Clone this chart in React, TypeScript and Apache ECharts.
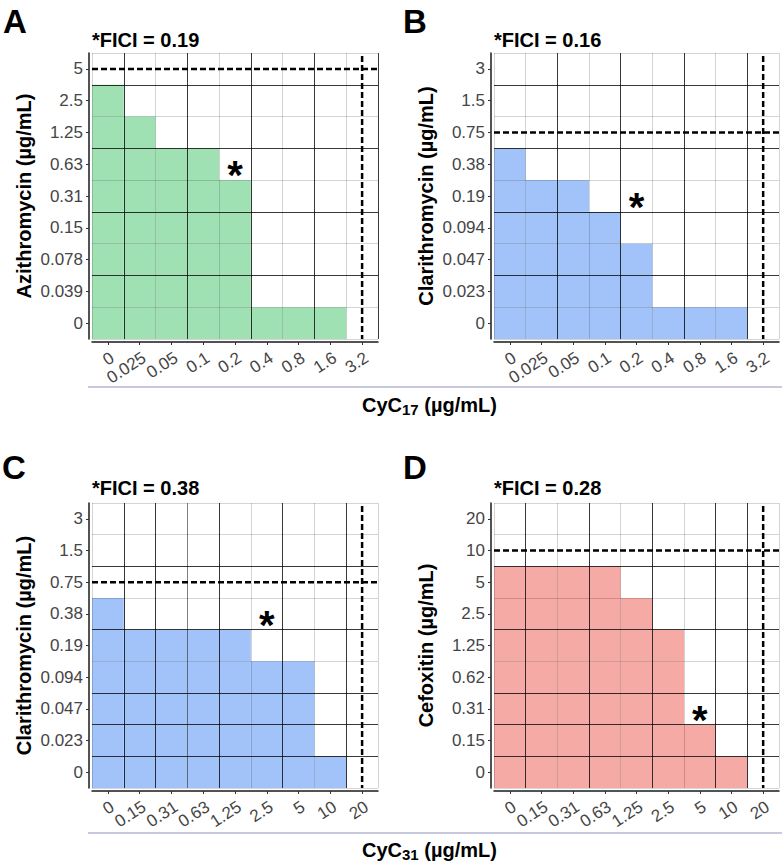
import React, { useEffect, useRef } from "react";
import * as echarts from "echarts";

// ---------- data ----------
const cyc17Doses = ["0", "0.025", "0.05", "0.1", "0.2", "0.4", "0.8", "1.6", "3.2"];
const cyc31Doses = ["0", "0.15", "0.31", "0.63", "1.25", "2.5", "5", "10", "20"];
const azithromycinDoses = ["0", "0.039", "0.078", "0.15", "0.31", "0.63", "1.25", "2.5", "5"];
const clarithromycinDoses = ["0", "0.023", "0.047", "0.094", "0.19", "0.38", "0.75", "1.5", "3"];
const cefoxitinDoses = ["0", "0.15", "0.31", "0.62", "1.25", "2.5", "5", "10", "20"];

// highest antibiotic concentration with growth, per CyC column (null = no growth)
const growthA = ["2.5", "1.25", "0.63", "0.63", "0.31", "0", "0", "0", null];
const growthB = ["0.38", "0.19", "0.19", "0.094", "0.047", "0", "0", "0", null];
const growthC = ["0.38", "0.19", "0.19", "0.19", "0.19", "0.094", "0.094", "0", null];
const growthD = ["5", "5", "5", "5", "2.5", "1.25", "0.15", "0", null];

// MIC of each drug alone [CyC, antibiotic]
const micA = ["3.2", "5"];
const micB = ["3.2", "0.75"];
const micC = ["20", "0.75"];
const micD = ["20", "10"];

// FICI combination well [CyC, antibiotic]
const ficiWellA = ["0.2", "0.63"];
const ficiWellB = ["0.2", "0.19"];
const ficiWellC = ["2.5", "0.38"];
const ficiWellD = ["5", "0.31"];

const ficiValues = ["0.19", "0.16", "0.38", "0.28"];
const panelLetters = ["A", "B", "C", "D"];
const antibioticNames = ["Azithromycin", "Clarithromycin", "Clarithromycin", "Cefoxitin"];

// ---------- styling ----------
const FONT = '"Liberation Sans", Arial, Helvetica, sans-serif';
const DK = "rgba(0,0,0,0.78)";
const MD = "rgba(0,0,0,0.5)";
const LT = "rgba(0,0,0,0.17)";

const panels = [
  {
    xCats: cyc17Doses, yCats: azithromycinDoses, growth: growthA, mic: micA, star: ficiWellA,
    color: "#a0e1b4", grid: { left: 92, top: 53, width: 286, height: 286 },
    xLines: [LT, DK, LT, DK, LT, DK, LT, DK, LT, DK],
    yLines: [LT, LT, DK, LT, DK, LT, DK, LT, DK, LT],
    letterPos: [3, 21], titlePos: [92, 40],
  },
  {
    xCats: cyc17Doses, yCats: clarithromycinDoses, growth: growthB, mic: micB, star: ficiWellB,
    color: "#a1c3f9", grid: { left: 494, top: 53, width: 285, height: 286 },
    xLines: [LT, LT, DK, LT, DK, LT, DK, LT, DK, LT],
    yLines: [LT, LT, DK, LT, DK, LT, DK, LT, DK, LT],
    letterPos: [403, 21], titlePos: [494, 40],
  },
  {
    xCats: cyc31Doses, yCats: clarithromycinDoses, growth: growthC, mic: micC, star: ficiWellC,
    color: "#a1c3f9", grid: { left: 92, top: 503, width: 286, height: 285 },
    xLines: [LT, DK, DK, MD, DK, LT, DK, LT, DK, LT],
    yLines: [LT, DK, DK, DK, LT, DK, LT, DK, LT, LT],
    letterPos: [2, 467], titlePos: [92, 488],
  },
  {
    xCats: cyc31Doses, yCats: cefoxitinDoses, growth: growthD, mic: micD, star: ficiWellD,
    color: "#f6aaa6", grid: { left: 494, top: 503, width: 285, height: 285 },
    xLines: [LT, DK, LT, DK, LT, DK, LT, DK, DK, LT],
    yLines: [LT, DK, DK, DK, LT, DK, LT, DK, LT, LT],
    letterPos: [403, 467], titlePos: [494, 488],
  },
];

function buildOption() {
  const grids: any[] = [];
  const xAxes: any[] = [];
  const yAxes: any[] = [];
  const series: any[] = [];
  const graphic: any[] = [];

  panels.forEach((p, i) => {
    grids.push({ ...p.grid, containLabel: false, outerBoundsMode: "none" });
    xAxes.push({
      type: "category",
      gridIndex: i,
      data: p.xCats,
      position: "bottom",
      offset: 3,
      z: 3,
      axisLine: { show: true, lineStyle: { color: "#1a1a1a", width: 1.5 } },
      axisTick: { show: true, alignWithLabel: true, length: 3, lineStyle: { color: "#333" } },
      axisLabel: {
        interval: 0, rotate: 33, align: "right", verticalAlign: "top", margin: 7,
        fontSize: 17, color: "#454545", fontFamily: FONT,
      },
      splitLine: { show: true, lineStyle: { color: p.xLines, width: 1 } },
    });
    yAxes.push({
      type: "category",
      gridIndex: i,
      data: p.yCats,
      offset: 3,
      z: 3,
      name: antibioticNames[i] + " (µg/mL)",
      nameLocation: "middle",
      nameGap: 55,
      nameRotate: 90,
      nameTextStyle: { fontSize: 20, fontWeight: "bold", color: "#000", fontFamily: FONT },
      axisLine: { show: true, lineStyle: { color: "#1a1a1a", width: 1.5 } },
      axisTick: { show: true, alignWithLabel: true, length: 3, lineStyle: { color: "#333" } },
      axisLabel: { interval: 0, margin: 6, fontSize: 17, color: "#454545", fontFamily: FONT },
      splitLine: { show: true, lineStyle: { color: p.yLines, width: 1 } },
    });

    const cells: number[][] = [];
    p.growth.forEach((top, xi) => {
      if (top === null) return;
      const topIdx = p.yCats.indexOf(top);
      for (let yi = 0; yi <= topIdx; yi++) cells.push([xi, yi]);
    });
    const color = p.color;
    series.push({
      type: "custom",
      xAxisIndex: i,
      yAxisIndex: i,
      z: 2,
      silent: true,
      encode: { x: 0, y: 1 },
      data: cells,
      renderItem: (params: any, api: any) => {
        const c = api.coord([api.value(0), api.value(1)]);
        const s = api.size([1, 1]);
        return {
          type: "rect",
          shape: { x: c[0] - s[0] / 2, y: c[1] - s[1] / 2, width: s[0], height: s[1] },
          style: { fill: color },
        };
      },
    });

    series.push({
      type: "custom",
      xAxisIndex: i,
      yAxisIndex: i,
      z: 5,
      silent: true,
      encode: { x: 0, y: 1 },
      data: [[p.xCats.indexOf(p.mic[0]), p.yCats.indexOf(p.mic[1])]],
      renderItem: (params: any, api: any) => {
        const c = api.coord([api.value(0), api.value(1)]);
        const cs = params.coordSys;
        const st = { stroke: "#000", lineWidth: 2.5, lineDash: [6, 3], fill: null };
        return {
          type: "group",
          children: [
            { type: "line", shape: { x1: cs.x, y1: c[1], x2: cs.x + cs.width, y2: c[1] }, style: st },
            { type: "line", shape: { x1: c[0], y1: cs.y + 3, x2: c[0], y2: cs.y + cs.height }, style: st },
          ],
        };
      },
    });

    series.push({
      type: "custom",
      xAxisIndex: i,
      yAxisIndex: i,
      z: 6,
      silent: true,
      encode: { x: 0, y: 1 },
      data: [[p.xCats.indexOf(p.star[0]), p.yCats.indexOf(p.star[1])]],
      renderItem: (params: any, api: any) => {
        const c = api.coord([api.value(0), api.value(1)]);
        return {
          type: "text",
          x: c[0],
          y: c[1] + 11,
          style: {
            text: "*", font: `bold 40px ${FONT}`, fill: "#000",
            align: "center", verticalAlign: "middle",
          },
        };
      },
    });

    graphic.push({
      type: "text",
      x: p.letterPos[0],
      y: p.letterPos[1],
      style: { text: panelLetters[i], font: `bold 33px ${FONT}`, fill: "#000", align: "left", verticalAlign: "middle" },
    });
    graphic.push({
      type: "text",
      x: p.titlePos[0],
      y: p.titlePos[1],
      style: { text: "*FICI = " + ficiValues[i], font: `bold 20px ${FONT}`, fill: "#000", align: "left", verticalAlign: "middle" },
    });
  });

  const xTitles = [
    { y: 405, line: 387, sub: "17" },
    { y: 850, line: 833, sub: "31" },
  ];
  xTitles.forEach((t) => {
    graphic.push({
      type: "line",
      shape: { x1: 88, y1: t.line, x2: 782, y2: t.line },
      style: { stroke: "#c6c8de", lineWidth: 2 },
    });
    graphic.push({
      type: "text",
      x: 362,
      y: t.y,
      style: {
        text: `{m|CyC}{s|${t.sub}}{m| (µg/mL)}`,
        align: "left",
        verticalAlign: "middle",
        fill: "#000",
        rich: {
          m: { font: `bold 20px ${FONT}`, lineHeight: 24, fill: "#000" },
          s: { font: `bold 15px ${FONT}`, lineHeight: 14, verticalAlign: "bottom", fill: "#000" },
        },
      },
    });
  });

  return {
    animation: false,
    backgroundColor: "#fff",
    grid: grids,
    xAxis: xAxes,
    yAxis: yAxes,
    series,
    graphic,
  };
}

export default function App() {
  const ref = useRef<HTMLDivElement>(null);
  useEffect(() => {
    if (!ref.current) return;
    const chart = echarts.init(ref.current, null, { renderer: "svg" });
    chart.setOption(buildOption() as any);
    return () => chart.dispose();
  }, []);
  return (
    <div
      ref={ref}
      style={{ position: "fixed", left: 0, top: 0, width: 784, height: 866, background: "#fff" }}
    />
  );
}
